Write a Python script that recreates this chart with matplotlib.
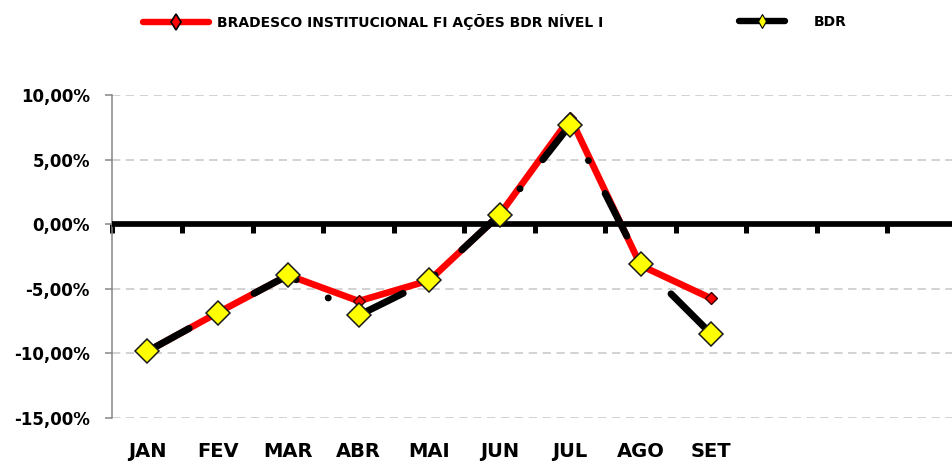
import matplotlib
matplotlib.use("Agg")
import matplotlib.pyplot as plt
import numpy as np
from matplotlib.lines import Line2D
from matplotlib.ticker import FuncFormatter, FixedLocator

plt.rcParams['lines.scale_dashes'] = False

# ---- data ----
months = ['JAN', 'FEV', 'MAR', 'ABR', 'MAI', 'JUN', 'JUL', 'AGO', 'SET']
fundo = [-9.85, -6.85, -3.95, -5.95, -4.35, 0.75, 8.25, -3.2, -5.75]
bdr = [-9.85, -6.85, -3.95, -7.05, -4.35, 0.75, 7.7, -3.05, -8.5]
name_fundo = 'BRADESCO INSTITUCIONAL FI AÇÕES BDR NÍVEL I'
name_bdr = 'BDR'
yticks = [-15, -10, -5, 0, 5, 10]
n_slots = 12

W, H = 953, 465
fig = plt.figure(figsize=(W / 100, H / 100), dpi=100)
ax = fig.add_axes([112 / W, (H - 418) / H, 846 / W, (418 - 95) / H])

x = np.arange(len(months))

ax.set_xlim(-0.5, n_slots - 0.5)
ax.set_ylim(yticks[0], yticks[-1])

# grid lines
for yv in yticks:
    if yv != 0:
        ax.axhline(yv, color='#d2d2d2', lw=1.4, linestyle=(0, (6.0, 4.0)), zorder=0.5)

# series
ax.plot(x, fundo, color='#ff0000', lw=4.8, solid_capstyle='round',
        solid_joinstyle='round', zorder=2)
ax.plot(x, fundo, linestyle='none', marker='D', ms=6.5, mfc='#ff0000',
        mec='#400000', mew=1.0, zorder=2.2)
ax.plot(x, bdr, color='black', lw=5.0, linestyle=(0, (34.5, 26.5, 0.01, 26.5)),
        dash_capstyle='round', dash_joinstyle='round', zorder=3)
ax.plot(x, bdr, linestyle='none', marker='D', ms=11.8, mfc='#ffff00',
        mec='#1a1a1a', mew=1.1, zorder=4)

# spines
for s in ['top', 'right']:
    ax.spines[s].set_visible(False)
ax.spines['left'].set_color('#868686')
ax.spines['left'].set_linewidth(1.1)
ax.spines['bottom'].set_position(('data', 0))
ax.spines['bottom'].set_linewidth(4.1)
ax.spines['bottom'].set_color('black')
ax.spines['bottom'].set_capstyle('butt')

# y ticks
ax.set_yticks(yticks)
ax.yaxis.set_major_formatter(FuncFormatter(lambda v, p: f"{v:.2f}".replace('.', ',') + '%'))
ax.tick_params(axis='y', which='major', direction='out', length=5, width=1.1,
               color='#868686', pad=11, labelsize=12)
for lab in ax.get_yticklabels():
    lab.set_fontweight('bold')

# x ticks
ax.set_xticks(x)
ax.set_xticklabels(months, fontsize=14, fontweight='bold')
ax.xaxis.set_minor_locator(FixedLocator(np.arange(-0.5, n_slots, 1.0)))
ax.tick_params(axis='x', which='major', length=0, pad=157)
ax.tick_params(axis='x', which='minor', direction='out', length=6.5, width=3.6, color='black')

# legends
fp = dict(family='DejaVu Sans', weight='bold', size=10.0)
h1 = Line2D([], [], color='#ff0000', lw=4.6, solid_capstyle='round', marker='d',
            ms=8, mfc='#ff0000', mec='black', mew=1.2)
h2 = Line2D([], [], color='black', lw=4.6, solid_capstyle='round', marker='d',
            ms=7, mfc='#ffff00', mec='black', mew=0.8)
l1 = fig.legend([h1], [name_fundo], loc='center left', bbox_to_anchor=(143 / W, 1 - 22 / H),
                frameon=False, borderpad=0, borderaxespad=0, handlelength=4.75,
                handletextpad=0.55, prop=fp)
l2 = fig.legend([h2], [name_bdr], loc='center left', bbox_to_anchor=(739 / W, 1 - 22 / H),
                frameon=False, borderpad=0, borderaxespad=0, handlelength=3.3,
                handletextpad=2.05, prop=fp)

fig.savefig('out.png', dpi=100)
